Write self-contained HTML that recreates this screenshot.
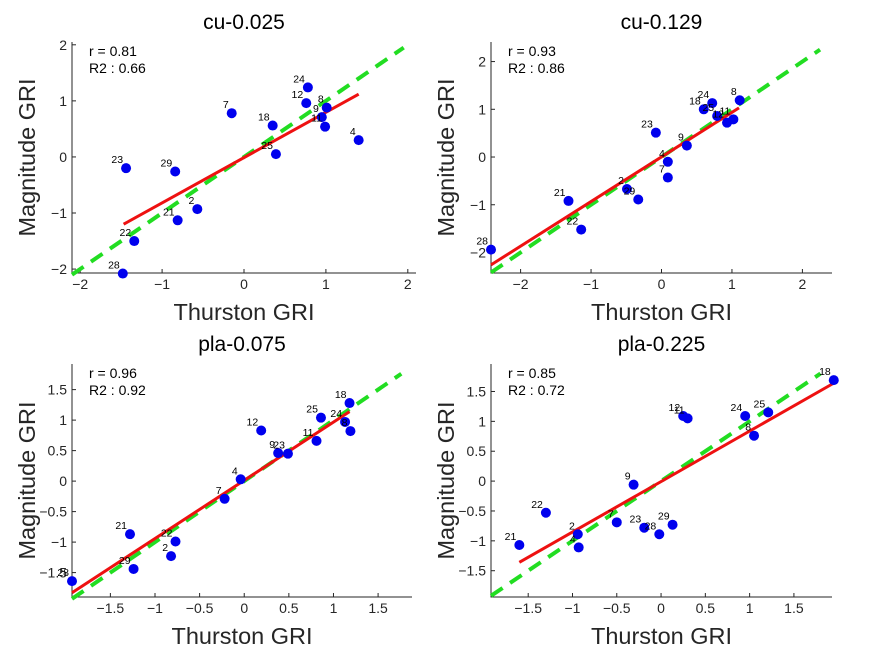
<!DOCTYPE html>
<html><head><meta charset="utf-8"><style>
body{margin:0;background:#fff;}
svg{display:block;font-family:"Liberation Sans","Noto Sans CJK JP",sans-serif;}
</style></head><body>
<svg id="fig" width="875" height="656" viewBox="0 0 875 656"></svg>
<script>
const titles = ["cu-0.025","cu-0.129","pla-0.075","pla-0.225"];
const rTexts = ["r = 0.81","r = 0.93","r = 0.96","r = 0.85"];
const r2Texts = ["R2 : 0.66","R2 : 0.86","R2 : 0.92","R2 : 0.72"];
const ids1 = ["24","12","8","9","11","4","7","18","25","23","29","2","21","22","28"];
const xs1 = [0.78,0.76,1.01,0.95,0.99,1.40,-0.15,0.35,0.39,-1.44,-0.84,-0.57,-0.81,-1.34,-1.48];
const ys1 = [1.24,0.96,0.88,0.71,0.54,0.30,0.78,0.56,0.05,-0.20,-0.26,-0.93,-1.13,-1.50,-2.08];
const ids2 = ["8","24","18","25","12","11","23","9","4","7","2","29","21","22","28"];
const xs2 = [1.11,0.72,0.60,0.79,0.93,1.02,-0.08,0.36,0.09,0.09,-0.49,-0.33,-1.32,-1.14,-2.42];
const ys2 = [1.19,1.13,1.00,0.86,0.72,0.79,0.51,0.24,-0.10,-0.43,-0.67,-0.89,-0.92,-1.52,-1.94];
const ids3 = ["18","25","24","8","11","12","9","23","4","7","21","22","2","29","28"];
const xs3 = [1.18,0.86,1.13,1.19,0.81,0.19,0.38,0.49,-0.04,-0.22,-1.28,-0.77,-0.82,-1.24,-1.93];
const ys3 = [1.28,1.04,0.97,0.82,0.66,0.83,0.46,0.45,0.03,-0.29,-0.87,-0.99,-1.23,-1.44,-1.64];
const ids4 = ["18","12","11","24","25","8","9","22","7","23","29","28","2","4","21"];
const xs4 = [1.95,0.25,0.30,0.95,1.21,1.05,-0.31,-1.30,-0.50,-0.19,0.13,-0.02,-0.94,-0.93,-1.60];
const ys4 = [1.69,1.09,1.05,1.09,1.15,0.76,-0.06,-0.53,-0.69,-0.78,-0.73,-0.89,-0.89,-1.11,-1.07];
const fitX1 = [-1.47,1.40], fitY1 = [-1.20,1.12];
const fitX2 = [-2.42,1.10], fitY2 = [-2.26,1.03];
const fitX3 = [-1.93,1.18], fitY3 = [-1.83,1.14];
const fitX4 = [-1.60,1.95], fitY4 = [-1.36,1.64];
const idLine = [[-2.1,1.95],[-2.42,2.25],[-1.93,1.76],[-1.92,1.80]];
const ticks1 = [-2,-1,0,1,2];
const ticks3 = [-1.5,-1,-0.5,0,0.5,1,1.5];

const panels = [
 {L:72,R:416,T:42,B:273,xl:[-2.1,2.1],yl:[-2.07,2.05],xt:ticks1,yt:ticks1,ids:ids1,xs:xs1,ys:ys1,fx:fitX1,fy:fitY1},
 {L:491,R:832,T:42,B:273,xl:[-2.42,2.42],yl:[-2.43,2.41],xt:ticks1,yt:ticks1,ids:ids2,xs:xs2,ys:ys2,fx:fitX2,fy:fitY2},
 {L:72,R:412,T:364,B:597,xl:[-1.93,1.88],yl:[-1.90,1.92],xt:ticks3,yt:ticks3,ids:ids3,xs:xs3,ys:ys3,fx:fitX3,fy:fitY3},
 {L:491,R:832,T:364,B:597,xl:[-1.92,1.93],yl:[-1.94,1.96],xt:ticks3,yt:ticks3,ids:ids4,xs:xs4,ys:ys4,fx:fitX4,fy:fitY4}
];
const NS="http://www.w3.org/2000/svg";
const svg=document.getElementById('fig');
function mk(tag,attrs,parent,text){const e=document.createElementNS(NS,tag);for(const k in attrs)e.setAttribute(k,attrs[k]);if(text!==undefined)e.textContent=text;parent.appendChild(e);return e;}
panels.forEach((p,i)=>{
 const g=mk('g',{},svg);
 
 
 const sx=v=>p.L+(v-p.xl[0])/(p.xl[1]-p.xl[0])*(p.R-p.L);
 const sy=v=>p.B-(v-p.yl[0])/(p.yl[1]-p.yl[0])*(p.B-p.T);
 const ax=mk('path',{d:`M${p.L},${p.T}V${p.B}H${p.R}`,stroke:'#262626','stroke-width':1,fill:'none'},g);
 
 
 p.xt.forEach(t=>{const x=sx(t);
  mk('line',{x1:x,x2:x,y1:p.B,y2:p.B-4,stroke:'#262626'},g);
  const tl=mk('text',{x:x,y:p.B+16,'text-anchor':'middle','font-size':14,fill:'#262626'},g,String(t).replace('-','−'));
  
  
 });
 p.yt.forEach(t=>{const y=sy(t);
  mk('line',{x1:p.L,x2:p.L+4,y1:y,y2:y,stroke:'#262626'},g);
  const tl=mk('text',{x:p.L-5,y:y+5,'text-anchor':'end','font-size':14,fill:'#262626'},g,String(t).replace('-','−'));
  
  
 });
 const cx=(p.L+p.R)/2;
 const ti=mk('text',{x:cx,y:p.T-13,'text-anchor':'middle','font-size':21,fill:'#000'},g,titles[i]);
 
 
 const xl=mk('text',{x:cx,y:p.B+47,'text-anchor':'middle','font-size':23.5,fill:'#262626'},g,'Thurston GRI');
 
 
 const yx=p.L-37, yc=(p.T+p.B)/2;
 const yl=mk('text',{x:yx,y:yc,'text-anchor':'middle','font-size':23.5,fill:'#262626',transform:`rotate(-90 ${yx} ${yc})`},g,'Magnitude GRI');
 
 
 const il=idLine[i];
 const gl=mk('line',{x1:sx(il[0]),y1:sy(il[0]),x2:sx(il[1]),y2:sy(il[1]),stroke:'#22dd22','stroke-width':4,'stroke-dasharray':'14,9'},g);
 
 
 const rl=mk('line',{x1:sx(p.fx[0]),y1:sy(p.fy[0]),x2:sx(p.fx[1]),y2:sy(p.fy[1]),stroke:'#ee1111','stroke-width':3},g);
 
 
 p.xs.forEach((v,j)=>{
  const c=mk('circle',{cx:sx(v),cy:sy(p.ys[j]),r:5,fill:'#0000ee'},g);
  
  
  const lb=mk('text',{x:sx(v)-3,y:sy(p.ys[j])-5,'text-anchor':'end','font-size':10.5,fill:'#000'},g,p.ids[j]);
  
  
 });
 const t1=mk('text',{x:p.L+17,y:p.T+14,'font-size':14,fill:'#000'},g,rTexts[i]);
 
 
 const t2=mk('text',{x:p.L+17,y:p.T+31,'font-size':14,fill:'#000'},g,r2Texts[i]);
 
 
});
</script>
</body></html>
